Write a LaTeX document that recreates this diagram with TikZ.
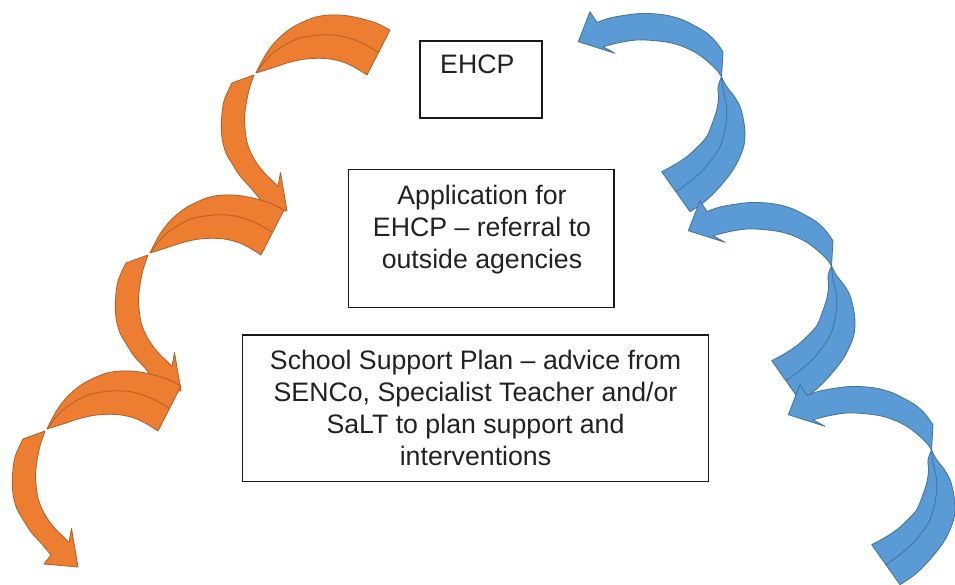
\documentclass[tikz,border=0pt]{standalone}
\usepackage{fontspec}
\setmainfont{Liberation Sans}
\definecolor{orfill}{HTML}{ED7D31}
\definecolor{orline}{HTML}{B0602A}
\definecolor{blfill}{HTML}{5B9BD5}
\definecolor{blline}{HTML}{41719C}
\definecolor{txtcol}{HTML}{222222}
\tikzset{
  oarrow/.style={fill=orfill, draw=orline, line width=0.8pt, line join=round},
  ofold/.style={draw=orline, line width=0.8pt},
  barrow/.style={fill=blfill, draw=blline, line width=0.8pt, line join=round},
  bfold/.style={draw=blline, line width=0.8pt},
  boxstyle/.style={draw=black!90, line width=1.5pt},
  txt/.style={font=\fontsize{26.7}{32.3}\selectfont, align=center, inner sep=0pt, text=txtcol},
  sm/.style={smooth, tension=0.55}
}
\newcommand{\orangeCurl}[2]{%
\begin{scope}[shift={(#1,#2)}]
\filldraw[oarrow] plot[sm] coordinates {(256,73) (266,54) (277,40) (290,29) (303,22) (316,17) (330,15) (345,15.5) (360,18.3) (376,23) (390,30)} -- (367,75) -- plot[sm] coordinates {(367,75) (355,67.5) (343,62) (330,59) (317,58.3) (302,59.5) (287,63) (272,68) (256,73)} -- cycle;
\draw[ofold] plot[sm] coordinates {(256,73) (266,60) (277,50) (297,39) (320,35) (338,35.5) (352,39) (364,44) (378,52)};
\filldraw[oarrow] (232,83) -- (254,75) -- plot[sm] coordinates {(254,75) (249,90) (246,105) (244.5,120) (246.5,140) (251,153) (257,163.5) (264,172.5) (271.5,180) (278,186.5)} -- (280.5,172.5) -- (287,211) -- (253,208) -- (260,199) -- plot[sm] coordinates {(260,199) (250,187) (240,176) (233,165) (226,153) (222,138) (221.5,120) (224,101) (232,83)} -- cycle;
\end{scope}}
\newcommand{\blueCurl}[2]{%
\begin{scope}[shift={(#1,#2)}]
\filldraw[barrow] plot[sm] coordinates {(721.5,77) (726.7,86.7) (734,96) (740,106.7) (743.5,120) (745,133) (744,145) (740,156.7) (733,170) (723,183) (713,194) (703,203) (690,211.7)} -- (661.7,171.7) -- plot[sm] coordinates {(661.7,171.7) (675,164.5) (686.7,156.7) (697,147.5) (706.7,136.7) (712,124) (716.7,110) (718.5,98) (718,86.7) (721.5,77)} -- cycle;
\draw[bfold] plot[sm] coordinates {(721.5,77) (723,90) (726,103) (726.7,116.7) (724.5,132) (720,146.7) (712,159) (703,170) (690,181.5) (676,191.7)};
\filldraw[barrow] (578.3,41.7) -- (590,11.7) -- (597,22.5) -- plot[sm] coordinates {(597,22.5) (610,18) (626.7,15) (641,13.5) (656.7,14) (670,16) (683,20) (695,26) (706.7,33) (716,42) (723,52)} -- (721.5,77) -- plot[sm] coordinates {(721.5,77) (716.7,70) (707,61) (696.7,53.3) (684,47) (670,42.7) (653,40.5) (636.7,40) (620,42.5) (603,46.7)} -- (615,53.3) -- cycle;
\end{scope}}
\begin{document}
\begin{tikzpicture}[x=1pt, y=-1pt]
\useasboundingbox (0,0) rectangle (955,585);
\fill[white] (0,0) rectangle (955,585);
% orange curls
\orangeCurl{0}{0}
\orangeCurl{-106}{180}
\orangeCurl{-209}{356}
% blue curls
\blueCurl{0}{0}
\blueCurl{110}{189}
\blueCurl{210}{373}
% boxes
\draw[boxstyle] (420,41) rectangle (542,118);
\node[txt, anchor=base west] (ehcp) at (440,74) {EHCP};
\draw[boxstyle] (348.3,169.3) rectangle (614,307.3);
\node[txt, anchor=north] (app) at (482,184.5) {Application for\\EHCP – referral to\\outside agencies};
\draw[boxstyle] (242.7,335) rectangle (708.3,481.7);
\node[txt, anchor=north] (ssp) at (475.5,349.5) {School Support Plan – advice from\\SENCo, Specialist Teacher and/or\\SaLT to plan support and\\interventions};
\end{tikzpicture}
\end{document}
